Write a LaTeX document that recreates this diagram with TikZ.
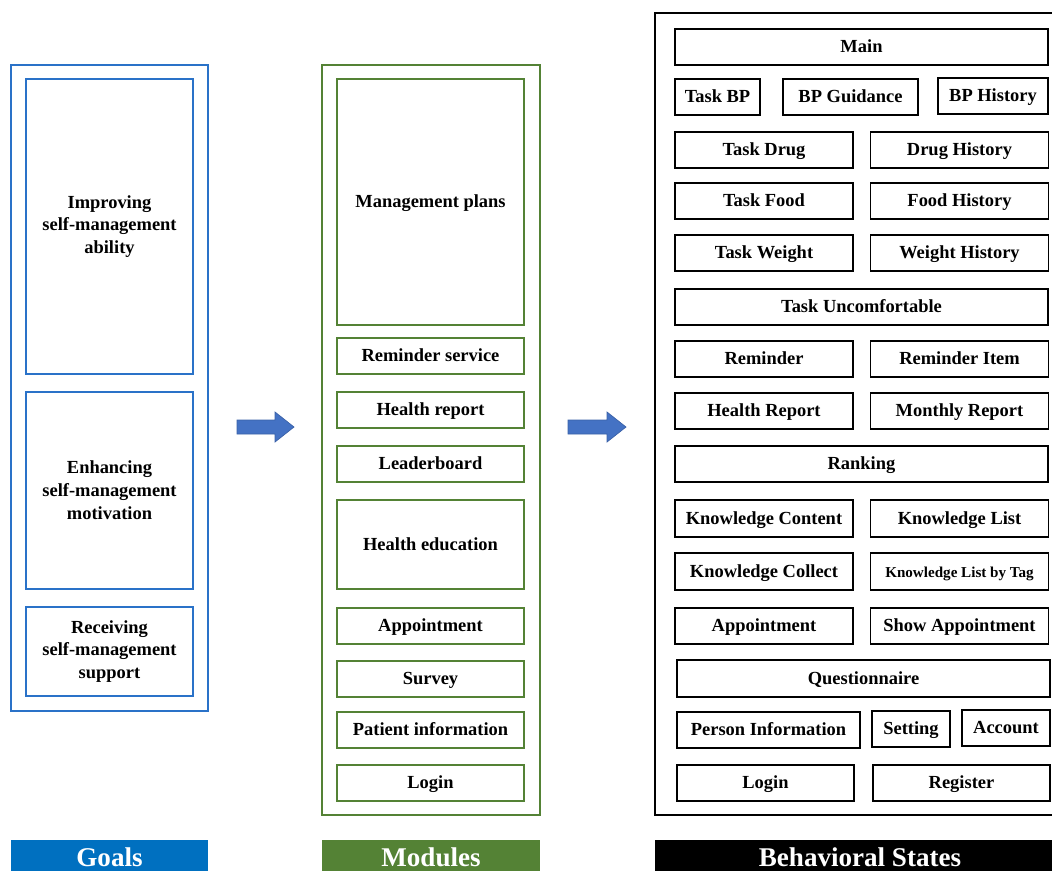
\documentclass[tikz,border=0pt]{standalone}
\usepackage{fontspec}
\setmainfont{Liberation Serif}
\definecolor{goalblue}{HTML}{0070C0}
\definecolor{frameblue}{HTML}{2A72C8}
\definecolor{modgreen}{HTML}{548235}
\definecolor{arrowblue}{HTML}{4472C4}
\tikzset{
  box/.style={draw, line width=0.9pt, inner sep=0pt, align=center,
    font=\fontsize{10.5}{13}\selectfont\bfseries},
  line/.style={text height=0.66em, text depth=0pt},
  bw/.style={minimum width=#1*0.02cm},
  bh/.style={minimum height=#1*0.02cm},
  tag/.style={inner sep=0pt, text=white, minimum height=0.68cm,
    font=\fontsize{15.4}{18}\selectfont\bfseries},
  blockarrow/.style={fill=arrowblue, draw=arrowblue!85!black, line width=0.4pt}
}

\begin{document}
\begin{tikzpicture}[x=0.02cm,y=-0.02cm]
\useasboundingbox (0,0) rectangle (1052,870);
\clip (0,0) rectangle (1052,870);

% Goals
\draw[frameblue, line width=1pt] (11,65) rectangle (208,711);
\node[box, draw=frameblue, bw=167, bh=295] (improve) at (109.5,226.5)
  {Improving\\self-management\\ability};
\node[box, draw=frameblue, bw=167, bh=197] (enhance) at (109.5,490.5)
  {Enhancing\\self-management\\motivation};
\node[box, draw=frameblue, bw=167, bh=89] (receive) at (109.5,651.5)
  {Receiving\\self-management\\support};
\node[tag, fill=goalblue, bw=197] (goals) at (109.5,857) {Goals};

% Modules
\draw[modgreen, line width=1pt] (322,65) rectangle (540,815);
\tikzset{mbox/.style={box, line, draw=modgreen, bw=187, bh=36}}
\node[mbox, bh=246] (plans) at (430.5,202) {Management plans};
\node[mbox] (remserv) at (430.5,356) {Reminder service};
\node[mbox] (hreport) at (430.5,410) {Health report};
\node[mbox] (leader) at (430.5,464) {Leaderboard};
\node[mbox, bh=89] (heduc) at (430.5,544.5) {Health education};
\node[mbox] (appoint) at (430.5,626) {Appointment};
\node[mbox] (survey) at (430.5,679) {Survey};
\node[mbox] (patinfo) at (430.5,730) {Patient information};
\node[mbox] (login) at (430.5,783) {Login};
\node[tag, fill=modgreen, bw=218] (modules) at (431,857) {Modules};

% arrows between columns
\draw[blockarrow] (237,420) -- (275,420) -- (275,412) -- (294,427)
  -- (275,442) -- (275,434) -- (237,434) -- cycle;
\draw[blockarrow] (568,420) -- (607,420) -- (607,412) -- (626,427)
  -- (607,442) -- (607,434) -- (568,434) -- cycle;

% Behavioral states
\draw[line width=1pt] (655,13) rectangle (1062,815);
\tikzset{sbox/.style={box, line, bw=178, bh=36}}
\node[sbox, bw=373] (main) at (861.5,47) {Main};
\node[sbox, bw=85] (taskbp) at (717.5,97) {Task BP};
\node[sbox, bw=135] (bpguide) at (850.5,97) {BP Guidance};
\node[sbox, bw=110] (bphist) at (993,96) {BP History};
\node[sbox] (taskdrug) at (764,150) {Task Drug};
\node[sbox] (drughist) at (959.5,150) {Drug History};
\node[sbox] (taskfood) at (764,201) {Task Food};
\node[sbox] (foodhist) at (959.5,201) {Food History};
\node[sbox] (taskweight) at (764,253) {Task Weight};
\node[sbox] (weighthist) at (959.5,253) {Weight History};
\node[sbox, bw=373] (taskuncomf) at (861.5,307) {Task Uncomfortable};
\node[sbox] (reminder) at (764,359) {Reminder};
\node[sbox] (remitem) at (959.5,359) {Reminder Item};
\node[sbox] (healthrep) at (764,411) {Health Report};
\node[sbox] (monthrep) at (959.5,411) {Monthly Report};
\node[sbox, bw=373] (ranking) at (861.5,464) {Ranking};
\node[sbox, bh=37] (kcontent) at (764,518.5) {Knowledge Content};
\node[sbox, bh=37] (klist) at (959.5,518.5) {Knowledge List};
\node[sbox, bh=37] (kcollect) at (764,571.5) {Knowledge Collect};
\node[sbox, bh=37, font=\fontsize{8.6}{10}\selectfont\bfseries] (klisttag)
  at (959.5,571.5) {Knowledge List by Tag};
\node[sbox] (sappoint) at (764,626) {Appointment};
\node[sbox] (showappoint) at (959.5,626) {Show Appointment};
\node[sbox, bw=373, bh=37] (quest) at (863.5,678.5) {Questionnaire};
\node[sbox, bw=183] (person) at (768.5,730) {Person Information};
\node[sbox, bw=78] (setting) at (911,729) {Setting};
\node[sbox, bw=88] (account) at (1006,728) {Account};
\node[sbox, bw=177] (slogin) at (765.5,783) {Login};
\node[sbox, bw=177] (register) at (961.5,783) {Register};
\node[tag, fill=black, bw=410] (states) at (860,857) {Behavioral States};
\end{tikzpicture}
\end{document}
